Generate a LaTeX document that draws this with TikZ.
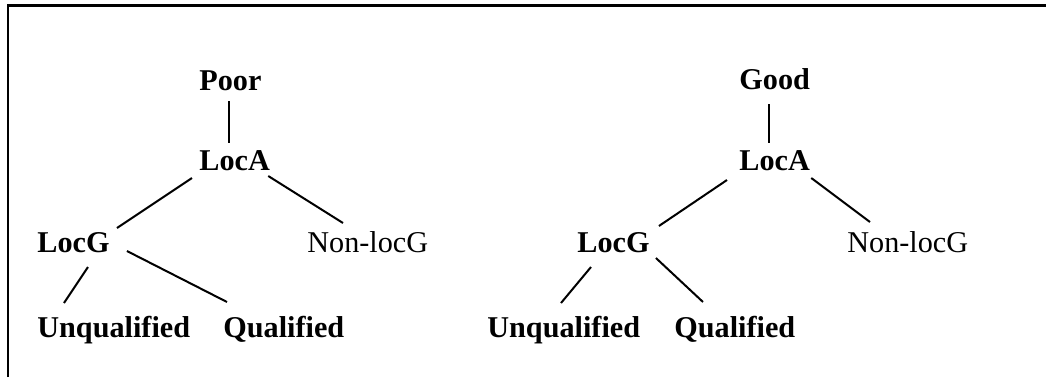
\documentclass[tikz,border=0pt]{standalone}
\usepackage{fontspec}
\setmainfont{Liberation Serif}
\begin{document}
\begin{tikzpicture}[x=0.5pt,y=-0.5pt,
  lbl/.style={inner sep=0pt, anchor=base west, font=\fontsize{15.1}{18}\selectfont\bfseries},
  lblplain/.style={inner sep=0pt, anchor=base west, font=\fontsize{15.1}{18}\selectfont},
  edge/.style={line width=1pt},
  frameline/.style={line width=1.4pt}]
\useasboundingbox (0,0) rectangle (1046,377);
\draw[frameline] (8,377) -- (8,5.5) -- (1046,5.5);

% left tree
\node[lbl] (poor) at (199,90) {Poor};
\node[lbl] (locA) at (199,170) {LocA};
\node[lbl] (locG) at (37,252) {LocG};
\node[lblplain] (nonG) at (307,252) {Non-locG};
\node[lbl] (unq) at (37,337) {Unqualified};
\node[lbl] (qual) at (223,337) {Qualified};

\draw[edge] ([shift={(29.5,11)}]poor.base west) -- ([shift={(29.5,-27)}]locA.base west);
\draw[edge] ([shift={(-7,8)}]locA.base west) -- ([shift={(7,-24)}]locG.base east);
\draw[edge] ([shift={(-2,6)}]locA.base east) -- ([shift={(36,-29)}]nonG.base west);
\draw[edge] ([shift={(51,15)}]locG.base west) -- ([shift={(27,-34)}]unq.base west);
\draw[edge] ([shift={(17,-1)}]locG.base east) -- ([shift={(4,-35)}]qual.base west);

% right tree
\node[lbl] (good) at (739,89) {Good};
\node[lbl] (locAb) at (739,170) {LocA};
\node[lbl] (locGb) at (577,252) {LocG};
\node[lblplain] (nonGb) at (847,252) {Non-locG};
\node[lbl] (unqb) at (487,337) {Unqualified};
\node[lbl] (qualb) at (674,337) {Qualified};

\draw[edge] ([shift={(30,15)}]good.base west) -- ([shift={(30,-27)}]locAb.base west);
\draw[edge] ([shift={(-12,10)}]locAb.base west) -- ([shift={(9,-26)}]locGb.base east);
\draw[edge] ([shift={(1,8)}]locAb.base east) -- ([shift={(23,-30)}]nonGb.base west);
\draw[edge] ([shift={(14,15)}]locGb.base west) -- ([shift={(74,-34)}]unqb.base west);
\draw[edge] ([shift={(6,6)}]locGb.base east) -- ([shift={(29,-35)}]qualb.base west);
\end{tikzpicture}
\end{document}
